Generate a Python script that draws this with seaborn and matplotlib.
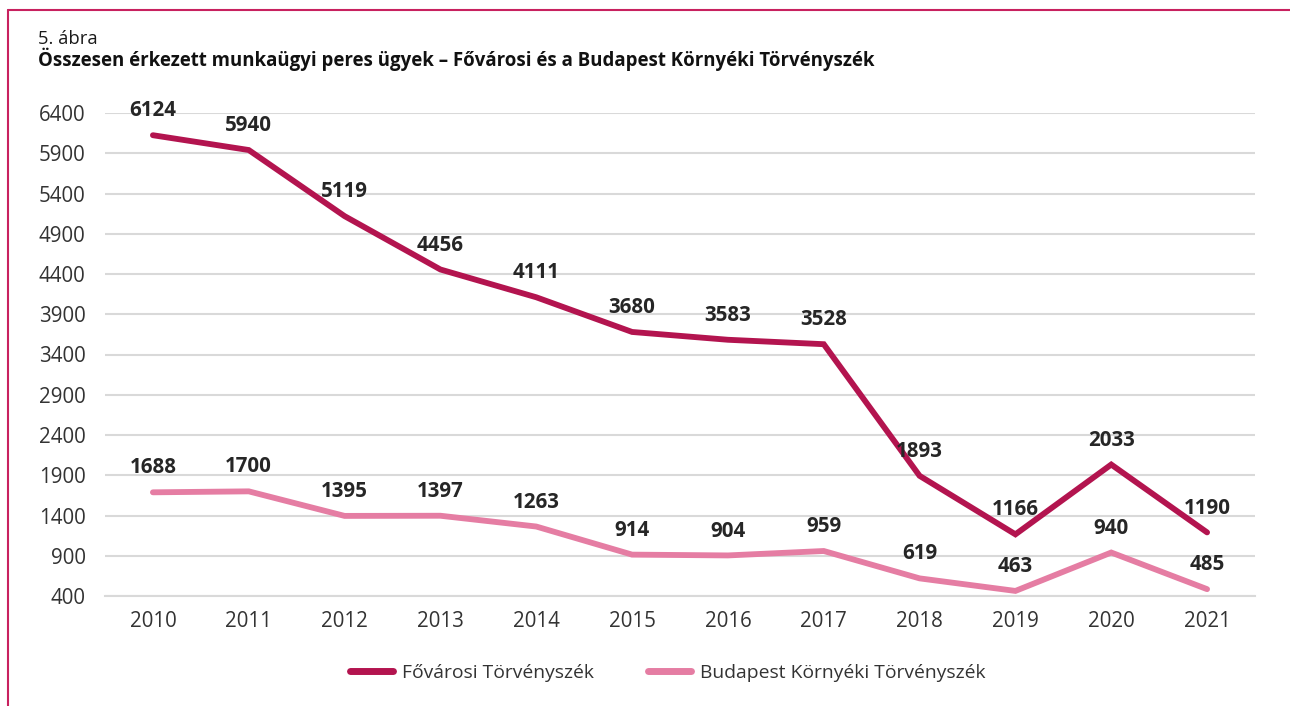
import matplotlib
matplotlib.use("Agg")
import matplotlib.pyplot as plt
import seaborn as sns
import pandas as pd
from matplotlib.lines import Line2D

years = ["2010", "2011", "2012", "2013", "2014", "2015", "2016", "2017", "2018", "2019", "2020", "2021"]
fovarosi = [6124, 5940, 5119, 4456, 4111, 3680, 3583, 3528, 1893, 1166, 2033, 1190]
kornyeki = [1688, 1700, 1395, 1397, 1263, 914, 904, 959, 619, 463, 940, 485]
series_names = ["Fővárosi Törvényszék", "Budapest Környéki Törvényszék"]
yticks = [400, 900, 1400, 1900, 2400, 2900, 3400, 3900, 4400, 4900, 5400, 5900, 6400]
colors = ["#B3144F", "#E57DA3"]

sns.set_theme(style="white")
plt.rcParams["font.family"] = ["Open Sans", "DejaVu Sans"]

df = pd.DataFrame({
    "year": list(range(len(years))) * 2,
    "value": fovarosi + kornyeki,
    "series": [series_names[0]] * len(years) + [series_names[1]] * len(years),
})

fig = plt.figure(figsize=(12.9, 7.06), dpi=100)
ax = fig.add_axes([105 / 1290, 1 - 596 / 706, (1255 - 105) / 1290, (596 - 113) / 706])

sns.lineplot(data=df, x="year", y="value", hue="series", palette=colors,
             linewidth=4.2, ax=ax, legend=False, solid_capstyle="round",
             solid_joinstyle="miter")

ax.set_xlim(-0.5, len(years) - 0.5)
ax.set_ylim(400, 6400)
ax.set_yticks(yticks)
ax.set_yticklabels([str(v) for v in yticks], fontsize=14.8, color="#333333")
ax.set_xticks(range(len(years)))
ax.set_xticklabels(years, fontsize=14.8, color="#333333")
ax.set_xticks([i - 0.5 for i in range(len(years) + 1)], minor=True)
ax.tick_params(axis="x", which="major", length=0, pad=11)
ax.tick_params(axis="x", which="minor", length=6, width=1.5, color="#D9D9D9", direction="out")
ax.tick_params(axis="y", length=0, pad=14)
ax.set_xlabel("")
ax.set_ylabel("")
ax.grid(axis="y", color="#D9D9D9", linewidth=1.5)
ax.set_axisbelow(True)
for s in ["left", "right", "top"]:
    ax.spines[s].set_visible(False)
ax.spines["bottom"].set_color("#D9D9D9")
ax.spines["bottom"].set_linewidth(1.5)

for vals in (fovarosi, kornyeki):
    for i, v in enumerate(vals):
        ax.annotate(str(v), (i, v), xytext=(0, 10), textcoords="offset points",
                    ha="center", va="bottom", fontsize=14.8, fontweight="bold",
                    color="#262626")

fig.text(38 / 1290, 1 - 44 / 706, "5. ábra", fontsize=13.2, color="#1a1a1a", va="baseline")
fig.text(38 / 1290, 1 - 66 / 706,
         "Összesen érkezett munkaügyi peres ügyek – Fővárosi és a Budapest Környéki Törvényszék",
         fontsize=13.4, fontweight="bold", color="#111111", va="baseline")

handles = [Line2D([0], [0], color=c, linewidth=5, solid_capstyle="round") for c in colors]
fig.legend(handles, series_names, loc="center", bbox_to_anchor=(668 / 1290, 1 - 673 / 706),
           ncol=2, frameon=False, fontsize=13.9, handlelength=2.2, handletextpad=0.5,
           columnspacing=2.8, labelcolor="#333333")

frame_color = "#C8215F"
fig.add_artist(Line2D([8 / 1290, 8 / 1290], [0, 1 - 10 / 706], color=frame_color, linewidth=1.5,
                      transform=fig.transFigure))
fig.add_artist(Line2D([8 / 1290, 1], [1 - 10 / 706, 1 - 10 / 706], color=frame_color, linewidth=1.5,
                      transform=fig.transFigure))

fig.savefig("out.png", dpi=100)
